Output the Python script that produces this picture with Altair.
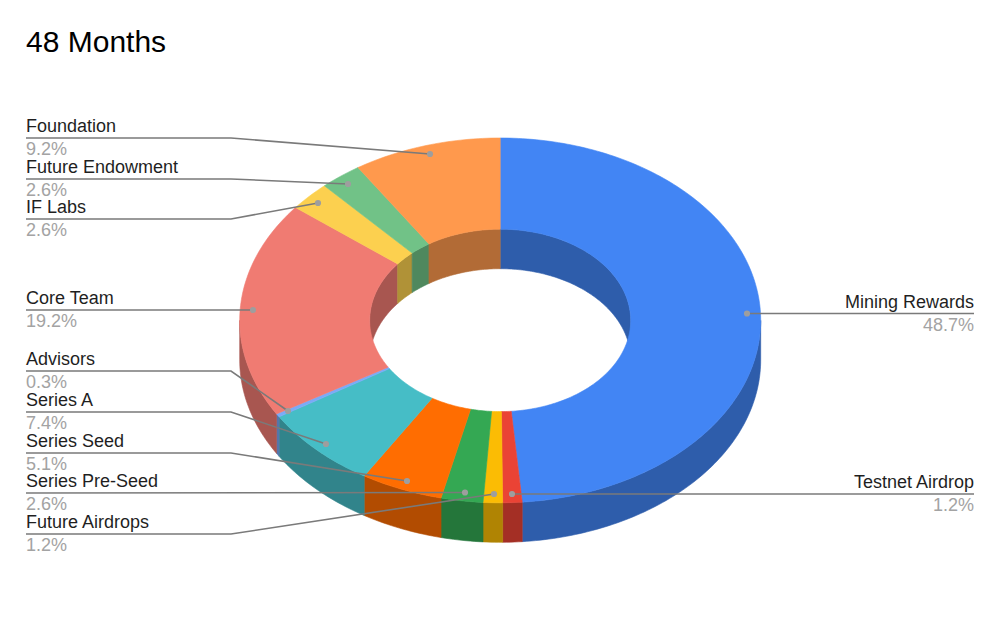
import math
import altair as alt
import pandas as pd
import numpy as np

# --- chart values ---
labels = ["Mining Rewards", "Testnet Airdrop", "Future Airdrops", "Series Pre-Seed", "Series Seed",
          "Series A", "Advisors", "Core Team", "IF Labs", "Future Endowment", "Foundation"]
shares = [48.7, 1.2, 1.2, 2.6, 5.1, 7.4, 0.3, 19.2, 2.6, 2.6, 9.2]
colors = ["#4285F4", "#EA4335", "#FBBC04", "#34A853", "#FF6D01", "#46BDC6",
          "#7BAAF7", "#F07B72", "#FCD04F", "#71C287", "#FF994D"]
title_text = "48 Months"

# --- 3D donut layout (page pixels) ---
CX, CY, RX, RY = 500.2, 320.4, 260.5, 182.4
IRX, IRY = 130.5, 91.2
DEPTH = 39.5
SHADE = 0.7

# leader lines: label baseline anchor, line path
leaders = {
    "Foundation": [(26, 138), (231, 138), (430, 154)],
    "Future Endowment": [(26, 179), (231, 179), (348, 184)],
    "IF Labs": [(26, 219), (231, 219), (318, 203)],
    "Core Team": [(26, 310), (253, 310)],
    "Advisors": [(26, 371), (231, 371), (288, 411)],
    "Series A": [(26, 412), (231, 412), (326, 444)],
    "Series Seed": [(26, 453), (231, 453), (407, 481)],
    "Series Pre-Seed": [(26, 493), (465, 492.5)],
    "Future Airdrops": [(26, 534), (231, 534), (494, 494)],
    "Testnet Airdrop": [(974, 494), (512, 494)],
    "Mining Rewards": [(974, 313.5), (747, 313.5)],
}


def shade(hex_color, k=SHADE):
    r, g, b = (int(hex_color[i:i + 2], 16) for i in (1, 3, 5))
    return "#%02x%02x%02x" % (round(r * k), round(g * k), round(b * k))


def arc(a0, a1, rx, ry, dy=0.0):
    n = max(2, int(abs(a1 - a0)) + 2)
    return [(CX + rx * math.sin(math.radians(a)), CY - ry * math.cos(math.radians(a)) + dy)
            for a in np.linspace(a0, a1, n)]


polys = []
seq = [0]


def add(points, color, layer):
    seq[0] += 1
    pid = f"{layer}{seq[0]:03d}"
    pts = list(points) + [points[0]]
    for i, (x, y) in enumerate(pts):
        polys.append({"pid": pid, "i": i, "x": x, "y": y, "c": color, "layer": layer})


total = sum(shares)
start = 0.0
spans = []
for lab, s, c in zip(labels, shares, colors):
    end = start + s / total * 360
    spans.append((start, end, c))
    start = end

for a0, a1, c in spans:
    # near outer wall: clock angles 90..270
    lo, hi = max(a0, 90), min(a1, 270)
    if hi > lo:
        top = arc(lo, hi, RX, RY)
        bot = arc(hi, lo, RX, RY, DEPTH)
        add(top + bot, shade(c), "a")
    # far inner wall: clock angles 270..360 and 0..90
    for lo, hi in ((max(a0, 270), min(a1, 360)), (max(a0, 0), min(a1, 90))):
        if hi > lo:
            top = arc(lo, hi, IRX, IRY)
            bot = arc(hi, lo, IRX, IRY, DEPTH)
            add(top + bot, shade(c), "b")
for a0, a1, c in spans:
    add(arc(a0, a1, RX, RY) + arc(a1, a0, IRX, IRY), c, "c")

poly_df = pd.DataFrame(polys)

line_rows, dot_rows, txt_rows = [], [], []
for lab, s in zip(labels, shares):
    path = leaders[lab]
    for i, (x, y) in enumerate(path):
        line_rows.append({"lab": lab, "i": i, "x": x, "y": y})
    dot_rows.append({"x": path[-1][0], "y": path[-1][1]})
    x0, y0 = path[0]
    txt_rows.append({"x": x0, "y": y0 - 6, "t": lab, "side": "left" if x0 < 500 else "right", "kind": "name"})
    txt_rows.append({"x": x0, "y": y0 + 17, "t": f"{s}%", "side": "left" if x0 < 500 else "right", "kind": "pct"})
txt_df = pd.DataFrame(txt_rows)

X = alt.X("x:Q", scale=alt.Scale(domain=[8, 992]), axis=None)
Y = alt.Y("y:Q", scale=alt.Scale(domain=[8, 616], reverse=True), axis=None)

poly_layers = [
    alt.Chart(poly_df[poly_df.layer == L]).mark_line(strokeWidth=0.6, interpolate="linear").encode(
        x=X, y=Y, detail="pid:N", order="i:Q",
        fill=alt.Fill("c:N", scale=None),
        stroke=alt.Stroke("c:N", scale=None),
    )
    for L in "abc"
]

lines = alt.Chart(pd.DataFrame(line_rows)).mark_line(color="#7A7A7A", strokeWidth=1.6).encode(
    x=X, y=Y, detail="lab:N", order="i:Q")
dots = alt.Chart(pd.DataFrame(dot_rows)).mark_circle(color="#9E9E9E", size=38, opacity=1).encode(x=X, y=Y)


def text_layer(side, kind, color):
    d = txt_df[(txt_df.side == side) & (txt_df.kind == kind)]
    return alt.Chart(d).mark_text(align=side, baseline="alphabetic", font="Liberation Sans",
                                  fontSize=18, color=color).encode(x=X, y=Y, text="t:N")


texts = [text_layer(s, k, c) for s in ("left", "right")
         for k, c in (("name", "#1F1F1F"), ("pct", "#A3A3A3"))]

title = alt.Chart(pd.DataFrame([{"x": 26, "y": 52, "t": title_text}])).mark_text(
    align="left", baseline="alphabetic", font="Liberation Sans", fontSize=30, color="#000000"
).encode(x=X, y=Y, text="t:N")

chart = alt.layer(*poly_layers, lines, dots, *texts, title).properties(
    width=984, height=608, padding=0, autosize=alt.AutoSizeParams(type="none"), background="white"
).configure_view(stroke=None)

chart.save("out.html", embed_options={"renderer": "svg", "actions": False})
